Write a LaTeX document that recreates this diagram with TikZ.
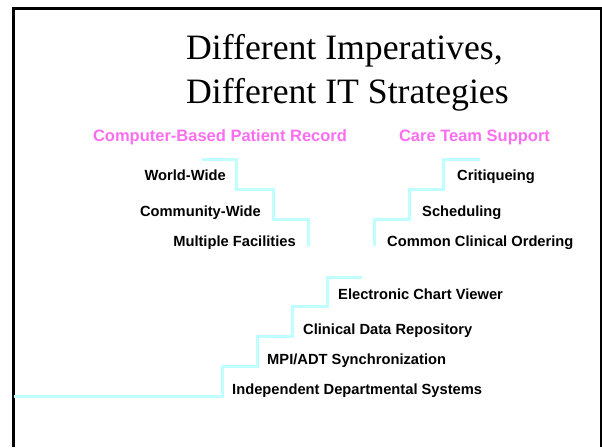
\documentclass[tikz,border=0pt]{standalone}
\usepackage[dvipsnames]{xcolor}
\usepackage{fontspec}
\setmainfont{Liberation Serif}
\setsansfont{Liberation Sans}
\definecolor{stair}{RGB}{192,255,255}
\definecolor{headpink}{RGB}{252,110,240}
\tikzset{
  stairline/.style={draw=stair,line width=3pt},
  lbl/.style={inner sep=0pt,font=\sffamily\bfseries\fontsize{14.7}{17}\selectfont},
  head/.style={inner sep=0pt,text=headpink,font=\sffamily\bfseries\fontsize{16.5}{19}\selectfont},
  ttl/.style={inner sep=0pt,anchor=base west,font=\fontsize{35.7}{42}\selectfont}
}

\begin{document}
\begin{tikzpicture}[x=1pt,y=-1pt]
    \useasboundingbox (0,0) rectangle (602,447);
    \def\w{35}
    \def\h{29.75}
    % frame, open at the bottom
    \draw[line width=3pt] (13.5,447) -- (13.5,8) -- (601.5,8) -- (601.5,447);

    \node[ttl] (title1) at (186,59) {Different Imperatives,};
    \node[ttl] (title2) at (186,103) {Different IT Strategies};

    \node[head,anchor=base] (cbpr) at (220,141) {Computer-Based Patient Record};
    \node[head,anchor=base] (cts) at (474.5,141) {Care Team Support};

    % long staircase
    \draw[stairline] (14,396) -- (222,396)
      \foreach \k in {1,...,4} { -- ++(0,-\h) -- ++(\w,0) };
    \node[lbl,anchor=base west] (indep) at (232,394) {Independent Departmental Systems};
    \node[lbl,anchor=base west] (mpi) at (267,364) {MPI/ADT Synchronization};
    \node[lbl,anchor=base west] (cdr) at (303,334) {Clinical Data Repository};
    \node[lbl,anchor=base west] (ecv) at (338,299) {Electronic Chart Viewer};

    % left staircase, going down
    \draw[stairline] (202,159) -- (236,159) -- (236,189) -- (273,189)
      -- (273,219) -- (308,219) -- (308,246);
    \node[lbl,anchor=base east] (world) at (226,180) {World-Wide};
    \node[lbl,anchor=base east] (comm) at (261,216) {Community-Wide};
    \node[lbl,anchor=base east] (multi) at (296,246) {Multiple Facilities};

    % right staircase, going up
    \draw[stairline] (374,246) -- (374,219) -- (409,219) -- (409,189)
      -- (443,189) -- (443,159) -- (480,159);
    \node[lbl,anchor=base west] (crit) at (457,180) {Critiqueing};
    \node[lbl,anchor=base west] (sched) at (422,216) {Scheduling};
    \node[lbl,anchor=base west] (order) at (387,246) {Common Clinical Ordering};
  \end{tikzpicture}
\end{document}
